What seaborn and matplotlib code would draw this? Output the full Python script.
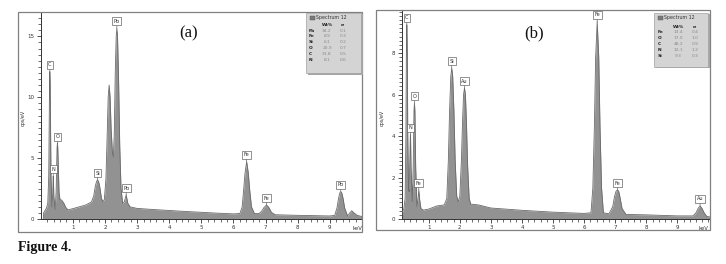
import numpy as np
import matplotlib
matplotlib.use("Agg")
import matplotlib.pyplot as plt
import seaborn as sns
from matplotlib.patches import Rectangle

sns.set_theme(style="white")
plt.rcParams['font.family'] = ['DejaVu Sans']

# ---------------- data ----------------
kev_a = [0.08, 0.09, 0.18, 0.22, 0.25, 0.265, 0.275, 0.285, 0.295, 0.305, 0.32, 0.35,
         0.37, 0.385, 0.39, 0.395, 0.41, 0.45,
         0.48, 0.50, 0.51, 0.52, 0.53, 0.545, 0.57, 0.60, 0.65, 0.72, 0.78, 0.85, 1.0, 1.2, 1.4,
         1.58, 1.65, 1.70, 1.74, 1.77, 1.80, 1.84, 1.89, 1.94,
         1.98, 2.03, 2.07, 2.10, 2.13, 2.16, 2.19, 2.23, 2.26,
         2.29, 2.32, 2.35, 2.37, 2.39, 2.42, 2.46, 2.50, 2.55, 2.60, 2.66, 2.71, 2.78,
         3.0, 3.5, 4.0, 4.5, 5.0, 5.5, 6.0,
         6.2, 6.27, 6.32, 6.36, 6.41, 6.46, 6.50, 6.56, 6.65,
         6.8, 6.88, 6.95, 7.03, 7.10, 7.18, 7.3, 8.0, 9.0,
         9.15, 9.22, 9.27, 9.31, 9.34, 9.37, 9.41, 9.46, 9.55,
         9.62, 9.68, 9.75, 9.85, 10.0]
cps_a = [0.0, 0.5, 0.9, 1.3, 3.5, 8.0, 11.3, 12.1, 11.3, 8.0, 3.5, 1.0,
         1.8, 3.2, 3.5, 3.2, 1.8, 0.8,
         2.2, 4.8, 5.9, 6.2, 5.9, 4.6, 2.2, 1.6, 1.55, 1.3, 0.95, 0.75, 0.85, 1.0, 1.15,
         1.4, 1.9, 2.7, 3.1, 3.2, 3.1, 2.6, 1.7, 1.4,
         1.6, 3.3, 7.0, 10.0, 11.0, 10.0, 7.5, 5.5, 5.1,
         7.0, 12.0, 15.0, 15.65, 15.0, 12.0, 6.0, 2.5, 1.3, 1.4, 1.97, 1.3, 1.0,
         0.87, 0.78, 0.7, 0.62, 0.55, 0.48, 0.42,
         0.45, 1.0, 2.5, 3.8, 4.7, 3.8, 2.5, 1.0, 0.45,
         0.45, 0.65, 0.95, 1.15, 0.95, 0.55, 0.35, 0.3, 0.25,
         0.3, 0.9, 1.7, 2.15, 2.24, 2.15, 1.7, 0.9, 0.25,
         0.5, 0.68, 0.5, 0.3, 0.2]

kev_b = [0.13, 0.14, 0.2, 0.24, 0.265, 0.28, 0.29, 0.295, 0.30, 0.31, 0.325, 0.35, 0.37,
         0.39, 0.405, 0.41, 0.415, 0.43, 0.47,
         0.50, 0.525, 0.54, 0.555, 0.58, 0.62,
         0.65, 0.68, 0.71, 0.75, 0.83, 1.0, 1.26,
         1.5, 1.58, 1.63, 1.67, 1.71, 1.74, 1.77, 1.81, 1.85, 1.90, 1.95,
         2.0, 2.05, 2.09, 2.12, 2.15, 2.18, 2.21, 2.25, 2.30, 2.35, 2.6,
         3.0, 4.0, 5.0, 6.0,
         6.22, 6.28, 6.33, 6.37, 6.42, 6.47, 6.51, 6.56, 6.62,
         6.8, 6.92, 6.98, 7.03, 7.07, 7.11, 7.16, 7.22, 7.35, 8.0, 9.0,
         9.5, 9.6, 9.67, 9.73, 9.79, 9.86, 9.95, 10.05]
cps_b = [0.0, 0.3, 0.5, 1.0, 4.0, 8.0, 9.2, 9.37, 9.2, 8.0, 4.0, 1.5, 1.32,
         2.8, 3.9, 4.06, 3.9, 2.5, 0.84,
         2.5, 5.2, 5.59, 5.2, 2.5, 0.6,
         0.9, 1.4, 0.9, 0.5, 0.43, 0.48, 0.63,
         0.68, 1.0, 2.8, 5.2, 6.9, 7.28, 6.9, 5.2, 2.8, 1.1, 0.84,
         1.1, 2.8, 4.8, 6.0, 6.31, 6.0, 4.8, 2.6, 1.0, 0.72, 0.68,
         0.53, 0.42, 0.33, 0.27,
         0.3, 1.5, 4.5, 7.8, 9.53, 7.8, 4.5, 1.5, 0.3,
         0.25, 0.6, 1.1, 1.35, 1.4, 1.35, 1.0, 0.5, 0.22, 0.2, 0.15,
         0.15, 0.3, 0.52, 0.63, 0.52, 0.3, 0.12, 0.1]

peak_el_a = ["C", "N", "O", "Si", "Pb", "Pb", "Fe", "Fe", "Pb"]
peak_kev_a = [0.285, 0.39, 0.52, 1.77, 2.37, 2.66, 6.41, 7.03, 9.34]
peak_el_b = ["C", "N", "O", "Fe", "Si", "Au", "Fe", "Fe", "Au"]
peak_kev_b = [0.295, 0.41, 0.54, 0.68, 1.74, 2.15, 6.42, 7.07, 9.73]

quant_el_a = ["Pb", "Fe", "Si", "O", "C", "N"]
quant_wt_a = ["34.2", "8.9", "6.1", "20.9", "31.8", "8.1"]
quant_sig_a = ["0.1", "0.3", "0.2", "0.7", "0.5", "0.6"]
quant_el_b = ["Fe", "O", "C", "N", "Si"]
quant_wt_b = ["13.4", "17.0", "48.2", "12.1", "9.3"]
quant_sig_b = ["0.4", "1.0", "0.9", "1.2", "0.3"]

xticks = [1, 2, 3, 4, 5, 6, 7, 8, 9]
yticks_a = [0, 5, 10, 15]
yticks_b = [0, 2, 4, 6, 8]

# ---------------- layout ----------------
W, H = 726, 264
fig = plt.figure(figsize=(W / 100, H / 100), dpi=100)
fig.patch.set_facecolor("white")


def fp(x, y):
    return x / W, 1 - y / H


FILL = "#929292"
EDGE = "#6a6a6a"


def panel(rect, kev, cps, xlim, ylim, yticks, yminor, frame, title, title_xy,
          peaks_el, peaks_kev, legend_box, legend_cols, q_el, q_wt, q_sig, row_y,
          ylabel_x, kev_xy):
    fx0, fy0, fx1, fy1 = frame
    fig.patches.append(Rectangle(fp(fx0, fy1), (fx1 - fx0) / W, (fy1 - fy0) / H,
                                 transform=fig.transFigure, fill=False,
                                 edgecolor="#808080", linewidth=0.9, zorder=0))
    l, t, r, b = rect
    ax = fig.add_axes([l / W, 1 - b / H, (r - l) / W, (b - t) / H])
    ax.set_facecolor("white")
    ax.fill_between(kev, cps, 0, color=FILL, linewidth=0, zorder=2)
    sns.lineplot(x=kev, y=cps, ax=ax, color=EDGE, linewidth=0.6, estimator=None,
                 sort=False, zorder=3)
    ax.set_xlim(*xlim)
    ax.set_ylim(*ylim)
    ax.set_xticks(xticks)
    ax.set_xticklabels([str(v) for v in xticks])
    ax.set_xticks(np.arange(0.2, xlim[1], 0.2), minor=True)
    ax.set_yticks(yticks)
    ax.set_yticklabels([str(v) for v in yticks])
    ax.set_yticks(np.arange(0, ylim[1], yminor), minor=True)
    ax.tick_params(axis="both", which="major", direction="out", length=3, width=0.6,
                   labelsize=4, pad=1.5, colors="#333333", labelcolor="#333333",
                   bottom=True, left=True)
    ax.tick_params(axis="both", which="minor", direction="out", length=2, width=0.5,
                   colors="#333333", bottom=True, left=True)
    for s in ["top", "right"]:
        ax.spines[s].set_visible(False)
    for s in ["left", "bottom"]:
        ax.spines[s].set_color("#333333")
        ax.spines[s].set_linewidth(0.7)
    ax.set_xlabel("")
    ax.set_ylabel("")
    ax.grid(False)
    for el, k in zip(peaks_el, peaks_kev):
        yv = np.interp(k, kev, cps)
        ax.annotate(el, xy=(k, yv), xytext=(0, 3.2), textcoords="offset points",
                    ha="center", va="bottom", fontsize=3.6, color="#333333",
                    bbox=dict(boxstyle="square,pad=0.3", fc="white", ec="#555555", lw=0.45),
                    arrowprops=dict(arrowstyle="-", color="#555555", lw=0.45,
                                    shrinkA=0, shrinkB=0),
                    zorder=5)
    fig.text(*fp(*title_xy), title, fontsize=12, family="Liberation Serif",
             ha="center", va="center", color="#111111")
    fig.text(*fp(ylabel_x, 118), "cps/eV", fontsize=3.5, rotation=90,
             ha="center", va="center", color="#333333")
    fig.text(*fp(*kev_xy), "keV", fontsize=3.8, ha="center", va="center", color="#333333")
    bx0, by0, bx1, by1 = legend_box
    fig.patches.append(Rectangle(fp(bx0 + 1.5, by1 + 1.5), (bx1 - bx0) / W, (by1 - by0) / H,
                                 transform=fig.transFigure, facecolor="#a5a5a5",
                                 edgecolor="none", zorder=6))
    fig.patches.append(Rectangle(fp(bx0, by1), (bx1 - bx0) / W, (by1 - by0) / H,
                                 transform=fig.transFigure, facecolor="#d4d4d4",
                                 edgecolor="#a0a0a0", linewidth=0.5, zorder=7))
    ex, vx, sx = legend_cols
    fig.patches.append(Rectangle(fp(bx0 + 4, by0 + 7.5), 4.5 / W, 4.5 / H,
                                 transform=fig.transFigure, facecolor="#7a7a7a",
                                 edgecolor="#555555", linewidth=0.3, zorder=8))
    fig.text(*fp(bx0 + 10, by0 + 5.3), "Spectrum 12", fontsize=3.4, ha="left",
             va="center", color="#333333", zorder=9)
    fig.text(*fp(vx, row_y[0] - 5.5), "Wt%", fontsize=3.2, ha="center", va="center",
             color="#222222", fontweight="bold", zorder=9)
    fig.text(*fp(sx, row_y[0] - 5.5), "σ", fontsize=3.2, ha="center", va="center",
             color="#222222", fontweight="bold", zorder=9)
    for yy, e, w, s in zip(row_y, q_el, q_wt, q_sig):
        fig.text(*fp(ex, yy), e, fontsize=3.2, ha="left", va="center",
                 color="#222222", fontweight="bold", zorder=9)
        fig.text(*fp(vx, yy), w, fontsize=3.2, ha="center", va="center",
                 color="#8a8a8a", zorder=9)
        fig.text(*fp(sx, yy), s, fontsize=3.2, ha="center", va="center",
                 color="#8a8a8a", zorder=9)
    return ax


panel(rect=(40.7, 12, 362, 219), kev=kev_a, cps=cps_a, xlim=(0, 10.0), ylim=(0, 17.0),
      yticks=yticks_a, yminor=0.5, frame=(18, 12, 362, 232), title="(a)",
      title_xy=(189, 33), peaks_el=peak_el_a, peaks_kev=peak_kev_a,
      legend_box=(306, 12.7, 361, 73.5), legend_cols=(309, 327, 343),
      q_el=quant_el_a, q_wt=quant_wt_a, q_sig=quant_sig_a,
      row_y=[30.7, 36.5, 42.3, 48.2, 54.0, 59.8], ylabel_x=23, kev_xy=(357, 228))

panel(rect=(401.7, 10.7, 710, 219), kev=kev_b, cps=cps_b, xlim=(0.13, 10.05), ylim=(0, 10.05),
      yticks=yticks_b, yminor=0.2, frame=(376, 10, 710, 230), title="(b)",
      title_xy=(534, 33), peaks_el=peak_el_b, peaks_kev=peak_kev_b,
      legend_box=(654, 12.7, 708, 66.5), legend_cols=(658, 678.3, 695),
      q_el=quant_el_b, q_wt=quant_wt_b, q_sig=quant_sig_b,
      row_y=[32.3, 38.2, 44.1, 50.0, 55.8], ylabel_x=382, kev_xy=(703, 228))

fig.text(*fp(18, 247), "Figure 4.", fontsize=10, family="Liberation Serif",
         fontweight="bold", ha="left", va="center", color="#111111")

fig.savefig("out.png", dpi=100, facecolor="white")
